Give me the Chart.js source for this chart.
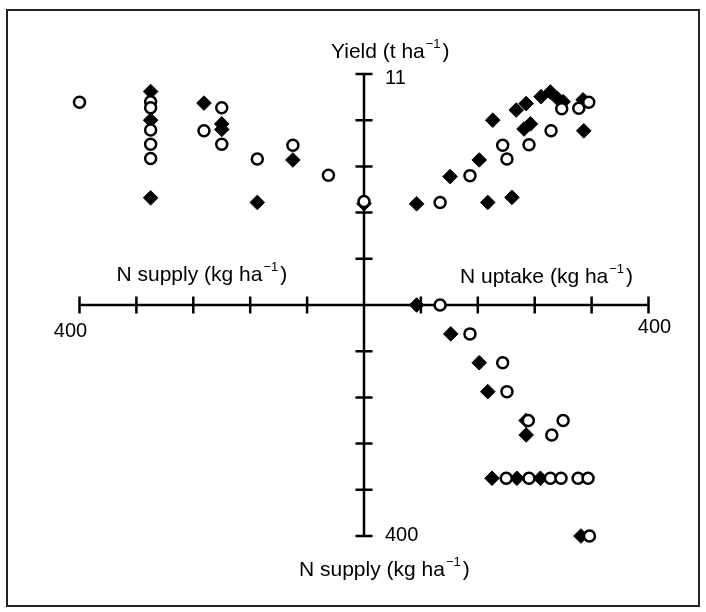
<!DOCTYPE html>
<html>
<head>
<meta charset="utf-8">
<script src="https://cdn.jsdelivr.net/npm/chart.js@4"></script>
<style>
  html, body { margin: 0; padding: 0; background: #fff; }
  #wrap { width: 706px; height: 612px; position: relative; }
</style>
</head>
<body>
<div id="wrap"><canvas id="chart" width="706" height="612"></canvas></div>
<script>
// — upper left: yield against N supply —
const ulOpenSupply = [400, 300, 300, 300, 300, 300, 225, 200, 200, 150, 100, 50, 0];
const ulOpenYield  = [10.39, 10.40, 10.27, 9.79, 9.48, 9.17, 9.77, 10.27, 9.48, 9.16, 9.46, 8.81, 8.24];
const ulFillSupply = [300, 300, 300, 225, 200, 200, 150, 100, 0];
const ulFillYield  = [10.62, 10.00, 8.32, 10.37, 9.92, 9.80, 8.22, 9.14, 8.19];

// — upper right: yield against N uptake —
const urOpenUptake = [107, 149, 195, 201, 232, 263, 278, 302, 316];
const urOpenYield  = [8.22, 8.80, 9.46, 9.16, 9.47, 9.77, 10.25, 10.26, 10.39];
const urFillUptake = [74, 121, 162, 174, 181, 208, 214, 228, 225, 234, 249, 262, 272, 280, 308, 309];
const urFillYield  = [8.19, 8.78, 9.14, 8.22, 10.0, 8.33, 10.22, 10.36, 9.81, 9.92, 10.51, 10.61, 10.47, 10.40, 10.44, 9.77];

// — lower right: N supply against N uptake —
const lrOpenUptake = [107, 149, 195, 201, 231, 280, 264, 200, 232, 262, 277, 301, 315, 317];
const lrOpenSupply = [0, 50, 100, 150, 200, 200, 225, 300, 300, 300, 300, 300, 300, 400];
const lrFillUptake = [74, 122, 162, 174, 228, 228, 180, 215, 248, 305];
const lrFillSupply = [0, 50, 100, 150, 200, 225, 300, 300, 300, 400];

// axis ticks
const nTicks = [80, 160, 240, 320, 400];
const yieldTicks = [7, 8, 9, 10, 11];

const FONT = '"Liberation Sans", Arial, sans-serif';

function pts(xs, ys) {
  return xs.map((x, i) => ({ x: x, y: ys[i] }));
}

const openStyle = {
  pointStyle: 'circle', pointRadius: 5.5, pointBorderWidth: 2.5,
  pointBackgroundColor: '#fff', pointBorderColor: '#000', order: 0, clip: false
};
const fillStyle = {
  pointStyle: 'rectRot', pointRadius: 7.3, pointBorderWidth: 1,
  pointBackgroundColor: '#000', pointBorderColor: '#000', order: 1, clip: false
};

// text with a "−1" superscript before the closing bracket
function unitLabel(ctx, x, y, pre) {
  ctx.font = '21px ' + FONT;
  const w1 = ctx.measureText(pre).width + 1;
  ctx.font = '13px ' + FONT;
  const w2 = ctx.measureText('\u22121').width + 2;
  ctx.textAlign = 'left';
  ctx.textBaseline = 'middle';
  ctx.font = '21px ' + FONT;
  ctx.fillText(pre, x, y);
  ctx.font = '13px ' + FONT;
  ctx.fillText('\u22121', x + w1, y - 8);
  ctx.font = '21px ' + FONT;
  ctx.fillText(')', x + w1 + w2, y);
}

const quadAxes = {
  id: 'quadAxes',
  beforeDatasetsDraw(chart) {
    const { ctx, scales } = chart;
    const { xL, xR, yT, yB } = scales;
    const cx = xR.getPixelForValue(0);
    const cy = yB.getPixelForValue(0);
    const t = 8.5;

    ctx.save();
    ctx.strokeStyle = '#000';
    ctx.lineWidth = 2.5;
    ctx.beginPath();
    ctx.moveTo(xL.getPixelForValue(400), cy);
    ctx.lineTo(xR.getPixelForValue(400), cy);
    ctx.moveTo(cx, yT.getPixelForValue(11));
    ctx.lineTo(cx, yB.getPixelForValue(400));
    nTicks.forEach(v => {
      [xL, xR].forEach(s => {
        const p = s.getPixelForValue(v);
        ctx.moveTo(p, cy - t); ctx.lineTo(p, cy + t);
      });
      const p = yB.getPixelForValue(v);
      ctx.moveTo(cx - t, p); ctx.lineTo(cx + t, p);
    });
    yieldTicks.forEach(v => {
      const p = yT.getPixelForValue(v);
      ctx.moveTo(cx - t, p); ctx.lineTo(cx + t, p);
    });
    ctx.stroke();

    // texts
    ctx.fillStyle = '#000';
    ctx.font = '20px ' + FONT;
    ctx.textBaseline = 'middle';
    ctx.textAlign = 'left';
    ctx.fillText('11', cx + 21, yT.getPixelForValue(11) + 4);
    ctx.fillText('400', cx + 21, yB.getPixelForValue(400) - 1);
    ctx.textAlign = 'center';
    ctx.fillText('400', xL.getPixelForValue(400) - 9, cy + 26);
    ctx.fillText('400', xR.getPixelForValue(400) + 6, cy + 22);

    unitLabel(ctx, cx - 33, yT.getPixelForValue(11) - 22, 'Yield (t ha');
    unitLabel(ctx, xL.getPixelForValue(400) + 37, cy - 30, 'N supply (kg ha');
    unitLabel(ctx, cx + 96, cy - 28, 'N uptake (kg ha');
    unitLabel(ctx, cx - 65, yB.getPixelForValue(400) + 34, 'N supply (kg ha');
    ctx.restore();
  },
  afterDraw(chart) {
    const ctx = chart.ctx;
    ctx.save();
    ctx.strokeStyle = '#222';
    ctx.lineWidth = 2;
    ctx.strokeRect(7, 10, 692, 596);
    ctx.restore();
  }
};

const ctx = document.getElementById('chart').getContext('2d');
new Chart(ctx, {
  type: 'scatter',
  data: {
    datasets: [
      Object.assign({ data: pts(ulOpenSupply, ulOpenYield), xAxisID: 'xL', yAxisID: 'yT' }, openStyle),
      Object.assign({ data: pts(urOpenUptake, urOpenYield), xAxisID: 'xR', yAxisID: 'yT' }, openStyle),
      Object.assign({ data: pts(lrOpenUptake, lrOpenSupply), xAxisID: 'xR', yAxisID: 'yB' }, openStyle),
      Object.assign({ data: pts(ulFillSupply, ulFillYield), xAxisID: 'xL', yAxisID: 'yT' }, fillStyle),
      Object.assign({ data: pts(urFillUptake, urFillYield), xAxisID: 'xR', yAxisID: 'yT' }, fillStyle),
      Object.assign({ data: pts(lrFillUptake, lrFillSupply), xAxisID: 'xR', yAxisID: 'yB' }, fillStyle)
    ]
  },
  options: {
    responsive: false,
    devicePixelRatio: 1,
    animation: false,
    layout: { padding: { left: 79.5, right: 57.5, top: 74, bottom: 76 } },
    plugins: { legend: { display: false }, tooltip: { enabled: false } },
    scales: {
      xL: { axis: 'x', type: 'linear', min: -400, max: 400, reverse: true, display: false },
      xR: { axis: 'x', type: 'linear', min: -400, max: 400, display: false },
      yT: { axis: 'y', type: 'linear', min: 1, max: 11, display: false },
      yB: { axis: 'y', type: 'linear', min: -400, max: 400, reverse: true, display: false }
    }
  },
  plugins: [quadAxes]
});
</script>
</body>
</html>
